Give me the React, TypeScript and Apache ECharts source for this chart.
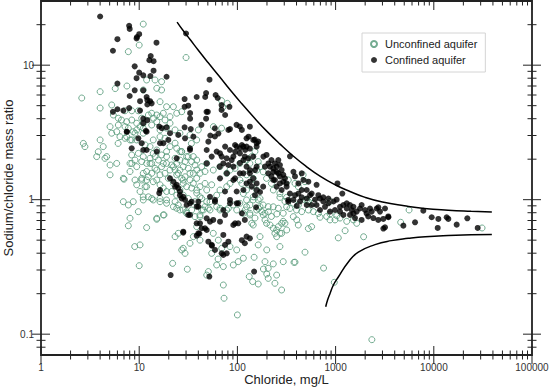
import React, { useEffect, useRef } from 'react';
import * as echarts from 'echarts';

// [chloride mg/L, sodium/chloride mass ratio]
const UNCONFINED: [number, number][] = [
  [11,20.2],[7.75,12.6],[30,11.4],[10,14.1],
  [4.0,6.35],[4.0,4.8],[2.6,5.7],[5.7,6.7],[7.5,7.0],
  [5.25,5.06],[5.45,4.26],[6.13,4.03],[5.05,3.49],[5.9,3.2],[5.25,3.12],[6.37,2.94],[7.75,3.4],[8.7,3.2],[7.46,2.94],[8.4,2.78],[9.4,2.78],[11,3.12],[10.2,3.49],
  [2.7,2.62],[2.8,2.48],[3.83,2.27],[4.67,2.09],[3.69,2.09],[5.05,1.81],[5.9,1.86],[6.89,1.44],[8.06,1.62],[8.4,1.86],[4.0,2.78],[4.3,2.48],[4.48,2.03],[5.05,1.53],[6.1,2.62],
  [11.9,7.76],[14.5,7.76],[16.9,7.54],[16.9,6.54],[15.1,6.73],[11,6.54],[16.3,5.35],[19,4.91],[22.3,4.91],[24.1,4.39],[27.1,4.51],[20.6,4.14],[17.6,4.39],[15.1,4.26],[13.4,4.39],
  [69,5.45],[79,5.2],[71,4.86],[57,3.49],[69,3.4],[34,2.62],[27,2.27],[31.6,2.09],
  [7.17,4.58],[8.4,4.58],[9.8,4.58],[6.6,3.91],[7.46,3.8],[8.4,3.91],[9.43,3.7],[10.6,4.03],[12.4,4.26],[14,4.03],[16.3,4.14],[18.3,3.91],[20.6,3.7],[6.13,3.59],[7.17,3.49],[9.43,3.3],[11,3.4],
  [6.89,0.966],[7.75,0.913],[8.7,0.966],[9.8,0.814],[8.06,0.727],[11,0.995],[12.4,1.05],[13.4,1.02],[15.1,0.727],[17.6,0.77],[19,0.995],[16.3,1.02],[9,0.448],[10.2,0.461],
  [7.0,1.42],[9.06,1.4],[9.43,1.29],[10.6,1.4],[10.2,1.15],[11.5,1.25],[11,1.57],[11.9,1.62],[12.4,1.48],[13.4,1.57],[14.5,1.71],[13.9,1.36],[15.1,1.4],[16.3,1.29],[17.6,1.22],[19,1.15],[21.4,1.15],[24.1,1.08],[23.2,0.966],[25,0.913],[24.1,0.863],[28.1,0.838],[30.4,0.814],[34.2,0.838],[37,0.748],[41.6,0.77],[45,0.838],[48.7,0.966],[48.7,1.18],[41.6,1.25],[46.8,1.32],[38.5,1.44],[41.6,1.57],[46.8,1.62],[43.3,1.76],[37,1.81],[34.2,1.92],[30.4,2.09],[27.1,2.28],[24.1,2.41],[23.2,2.63],[20.6,2.48],[19,2.28],[16.9,2.15],[15.7,1.97],[16.9,1.76],[19,1.86],[21.4,1.81],[23.2,1.66],[25,1.57],[27.1,1.44],[28.1,1.32],[30.4,1.25],[32.9,1.4],[35.6,1.57],[38.5,1.66],[31.6,1.71],[28.1,1.76],[24.1,1.86],[7.17,2.86],[8.06,2.78],[9.06,3.12],[9.8,2.21],[11,2.09],[12.9,2.03],[10.6,1.92],[9.06,1.97],[9.43,1.76],[8.06,1.86],
  [8.38,2.15],[11.9,1.86],[13.4,1.86],[14.5,2.09],[15.1,2.34],[12.9,2.48],[11.5,2.55],[13.9,2.78],[16.3,2.94],[18.3,2.86],[23.2,2.03],[26,1.97],[29.3,1.92],[26,1.66],[32.9,1.57],[29.3,1.48],[34.2,1.22],[38.5,1.12],[43.3,1.02],[37,0.966],[31.6,1.02],[28.1,1.08],[26,1.18],[22.3,1.32],[19.8,1.44],[18.3,1.57],[16.3,1.53],[11.9,1.4],
  [11,3.7],[13.4,3.59],[15.1,3.8],[16.3,3.3],[19,3.4],[23.2,3.3],[26,3.12],[32.9,3.03],[38.5,2.78],[40,3.3],[26,2.28],[35.6,2.09],[38.5,1.97],[48.7,1.86],[56.8,1.66],[66.5,1.76],[77.8,1.57],[84.1,1.66],[94.6,1.71],[106,1.86],[124,1.97],[140,2.09],[151,2.28],[163,1.92],[157,1.66],[145,1.44],[124,1.53],[106,1.4],[84.1,1.32],[77.8,1.25],[66.5,1.18],[61.5,1.08],[52.6,0.966],[46.8,0.887],[43.3,0.838],[52.6,0.838],[66.5,0.863],[80.9,0.863],[90.8,0.913],[106,0.94],[124,0.995],[145,1.05],[163,0.995],[157,0.838],[134,0.792],[115,0.792],[124,0.887],[13.9,2.21],[12.9,1.86],[15.1,1.66],[17.6,1.86],[19,2.09],[20.6,1.66],[22.3,1.76],[24.1,1.53],[28.1,1.4],[35.6,1.32],[38.5,1.18],[41.6,1.05],[54.7,1.29],[10.6,1.44],[11.9,1.25],[11,1.05],[13.9,0.995],[16.3,0.966],[19,0.94],[22.3,0.887],[26,0.838],[30.4,0.792],
  [15.1,0.715],[17.9,0.77],[23.2,0.531],[25,0.562],[28.1,0.435],[29.3,0.399],[27.1,0.423],[21.9,0.336],[30.9,0.304],[38.5,0.63],[41.6,0.748],[50.6,0.863],[61.5,0.887],[66.5,0.838],[77.8,0.838],[98.4,0.838],[134,0.77],[145,0.648],[163,0.461],[170,0.531],[199,0.423],[191,0.346],[206,0.309],[251,0.275],[293,0.346],[377,0.342],[271,0.448],[282,0.562],[251,0.531],[191,0.792],[206,0.887],[261,0.863],[293,0.792],[170,0.887],[56.8,0.562],[63.9,0.5],[69.2,0.435],[84.1,0.448],[98.4,0.423],[102,0.346],[90.8,0.327],[71.9,0.318],[61.5,0.327],[54.7,0.399],[50.6,0.292],[48.7,0.275],[71.9,0.232],[73.1,0.185],[100,0.139],[132,0.268],[143,0.246],[163,0.236],[206,0.26],[241,0.239],[282,0.213],[148,0.373],[115,0.367],[35.6,0.531],[32.9,0.474],[41.6,0.5],
  [305,0.667],[318,0.595],[371,0.748],[402,0.707],[417,0.648],[241,0.562],
  [111,1.32],[115,1.11],[124,1.18],[140,1.29],[157,1.18],[145,0.995],[170,1.02],[183,0.913],[164,0.86],[177,0.815],[183,0.77],[191,0.707],[198,0.667],[215,0.648],[232,0.613],[251,0.595],[261,0.63],[271,0.563],[282,0.667],[293,0.69],[222,0.75],[207,0.815],[232,0.885],[317,0.885],[343,0.86],[400,0.838],[452,0.815],[528,0.838],[594,0.815],[667,0.79],[812,0.75],[877,0.707],[986,0.707],[1520,0.707],[570,0.63],[528,0.61],[418,0.913],[488,0.995],[528,0.97],[372,0.94],[305,0.97],[271,1.04],[134,0.913],[120,0.838],[151,0.73],[140,0.667],
  [134,1.86],[170,1.76],[183,1.61],[198,1.44],[222,1.32],[232,1.18],[271,1.11],[317,1.04],[508,0.995],[594,0.94],[877,0.97],[1109,0.73],[1298,0.69],[1640,0.667],
  [10,0.323],[63.6,0.362],[184,0.305],[199,0.28],[232,0.333],[7.75,0.64],[11.9,0.62],
  [252,0.783],[386,0.343],[488,0.407],[754,0.31],[970,0.243],[1928,0.53],[1065,0.52],[1250,0.588],[1028,0.76],[878,0.783],[695,0.74],[5600,0.838],[4600,0.679],[31000,0.616],[2340,0.091],
  [330,1.4],[386,1.32],[417,1.25],[488,1.36],[467,1.53],
];

const CONFINED: [number, number][] = [
  [4.0,23],[7.9,19.6],[8.0,18.6],[10,17],[9.5,16.2],[9.4,15.8],[6.0,15.6],[15,14.7],[5.4,12.8],[13.1,11.7],[12.7,10.9],[14,10.7],[30,17.2],[9,9.8],[10,8.8],[11,8.4],[13,8.3],[14,9.1],[9.4,8.0],[19,8.2],[6,7.3],[9,6.5],[11,6.5],[11.9,5.8],[12.1,5.5],[12.9,5.4],[13.4,5.2],[12.1,5.1],[10.2,5.4],[8.0,5.9],[7.9,4.8],[10.2,4.6],[11,4.0],[12.1,3.9],[11,3.7],[6,4.7],[5.4,4.5],[6.9,4.6],[29,5.6],[31.6,5.0],[29,4.9],[38.5,5.8],[33,4.4],[33,4.0],[29,3.45],[33.5,3.35],[48,6.2],[48.5,4.5],[48,4.0],[43,3.6],[52,7.8],[19,3.45],[16,3.5],[17,3.4],[7.5,3.2],[11.7,3.25],
  [47,5.8],[60,6.0],[63,5.7],[50,4.5],[69,4.65],[83,4.9],[98,3.6],[106,3.5],[84,3.35],[53,3.0],[59,2.95],[64,3.1],[130,2.94],[150,2.8],[163,2.7],[157,2.48],[134,2.4],[124,2.48],
  [75,2.48],[84,2.34],[95,2.27],[119,2.09],[91,2.09],[106,1.87],[145,2.09],[184,2.09],[191,1.76],[157,1.76],[134,1.66],[91,1.76],[206,1.57],[232,1.4],[91,1.4],[78,1.57],[66,1.76],
  [59,3.39],[75,4.26],[69,5.05],[111,3.3],[81,3.3],[111,2.55],
  [120,2.34],[129,2.03],[115,1.57],[145,1.44],[134,1.36],[157,1.32],[183,1.25],[170,1.14],[151,1.08],[198,2.15],[222,1.97],[241,1.86],[251,1.76],[271,1.81],[282,1.66],[261,1.57],[232,1.61],[215,1.76],[207,1.86],[293,1.53],[305,1.44],[271,1.32],[251,1.25],[282,1.18],[317,1.25],[343,2.1],[372,1.61],[386,1.49],[418,1.32],[452,1.57],[470,1.4],[528,1.36],[640,1.29],[343,1.11],[386,1.08],[418,1.11],[452,1.04],[508,1.02],[549,1.08],[617,1.0],[694,1.02],[750,0.97],[844,0.94],[950,0.97],[1025,1.0],[1109,0.885],[1200,0.913],[1298,0.86],[1460,0.838],[1640,0.815],[1772,0.86],[1993,0.838],[2070,0.79],[2330,0.815],[2620,0.86],[2832,0.815],[3184,0.86],[3440,0.75],[3065,0.61],[2720,0.707],[2420,0.73],[2150,0.75],[1840,0.707],[1577,0.73],[1402,0.77],[1200,0.77],[1109,0.815],[986,0.838],[877,0.815],[780,0.885],[694,0.838],[640,0.913],[570,0.913],[508,0.913],[434,0.97],[372,0.995],[330,0.995],[1170,1.11],[1045,1.32],
  [232,1.71],[251,1.61],[271,1.49],[241,1.4],[222,1.49],[293,1.36],[317,1.32],[508,1.18],[570,1.11],[750,1.04],[844,1.02],[452,1.18],[667,1.08],[1298,0.94],[1520,0.885],[1840,0.913],[2240,0.86],[1520,0.79],[1402,0.913],
  [2723,0.878],[3061,0.719],[3443,0.74],[3184,0.623],[4897,0.641],[6440,0.679],[7820,0.828],[9520,0.74],[11130,0.719],[10960,0.616],[13520,0.74],[14060,0.719],[17100,0.652],[21950,0.727],[27990,0.616],
  [261,1.97],
  [20.6,3.12],[134,3.49],[32.9,2.41],[50.6,2.7],[48.7,2.34],[54.7,2.09],[61.5,2.28],[66.5,2.21],[69.2,2.09],[77.8,2.03],[71.9,1.86],[80.9,1.81],[87.4,1.97],[94.6,2.55],[98.4,2.48],[106,2.41],[115,2.48],[124,2.86],[145,2.78],[157,2.63],[106,2.21],[115,1.97],[124,1.76],[134,1.57],[151,1.66],[106,1.57],[94.6,1.44],[124,1.32],[140,1.25],[157,1.18],[115,1.18],[98.4,1.15],[66.5,1.44],[74.8,1.15],[84.1,0.995],[98.4,0.94],[71.9,0.838],[59.1,0.995],[52.6,1.05],[40,0.966],[32.9,0.94],[28.1,1.05],[26,1.15],[24.1,1.29],[22.3,1.36],
  [30.4,0.913],[32.9,0.77],[40,0.887],[41.6,0.667],[46.8,0.613],[52.6,0.686],[59.1,0.967],[56.8,0.707],[66.5,0.686],[74.8,0.77],[84.1,0.94],[94.6,0.667],[102,0.667],[90.8,0.648],[111,0.792],[119,0.707],[124,0.531],[134,0.516],[119,0.474],[111,0.5],[71.9,0.547],[80.9,0.487],[74.8,0.461],[69.2,0.399],[71.9,0.388],[77.8,0.399],[54.7,0.461],[59.1,0.423],[28.1,0.569],[40,0.562],[20.9,0.275],[51.8,0.268],[148,0.292],[155,0.878],[102,0.94],[402,0.898],[330,0.967],
  [7.46,3.2],[9.8,2.86],[10.6,2.63],[11.9,3.2],[8.38,2.41],[11,2.34],[11.9,2.34],[15.1,2.28],[16.3,2.63],[17.6,2.63],[19.8,2.78],[25,3.03],[29.3,2.86],[32.9,2.34],[24.1,2.03],[20.6,1.44],[23.2,1.25],[25,1.22],[26,1.08],[27.1,1.02],[29.3,0.995],[34.2,0.966],[38.5,0.887],[31.6,0.77],[38.5,0.667],[28.1,0.578],[43.3,0.613],[48.7,0.727],[48.7,0.595],[50.6,0.487],[16.3,1.18],[16,1.12],[48.7,1.86],[35.6,2.94],
  [38.5,0.54],[41,0.56],[55,0.455],
];

// Upper and lower mixing curves
const UPPER_CURVE: [number, number][] = [
  [24.3,20.9],[28,18.1],[33,15.5],[40,12.9],[50,10.5],[65,8.3],[85,6.5],[110,5.2],[150,4.03],[200,3.22],[270,2.6],[370,2.11],[500,1.77],[700,1.49],[1000,1.285],[1400,1.15],[2000,1.04],[3000,0.96],[5000,0.9],[8000,0.86],[14000,0.835],[24000,0.82],[39000,0.81],
];
const LOWER_CURVE: [number, number][] = [
  [793,0.16],[830,0.18],[876,0.2],[950,0.232],[1062,0.265],[1343,0.343],[1703,0.407],[2520,0.463],[3700,0.496],[5500,0.516],[8200,0.531],[14000,0.542],[24000,0.548],[39000,0.552],
];

const X_MIN = 1;
const X_MAX = 100000;
const Y_MIN = 0.07;
const Y_MAX = 30;
const X_MAJOR = [1, 10, 100, 1000, 10000, 100000];
const X_MINOR = [2,3,4,5,6,7,8,9,20,30,40,50,60,70,80,90,200,300,400,500,600,700,800,900,2000,3000,4000,5000,6000,7000,8000,9000,20000,30000,40000,50000,60000,70000,80000,90000];
const Y_MAJOR = [0.1, 1, 10];
const Y_MINOR = [0.08,0.09,0.2,0.3,0.4,0.5,0.6,0.7,0.8,0.9,2,3,4,5,6,7,8,9,20];

const FONT = '"Liberation Sans", Arial, Helvetica, sans-serif';
const MAJOR_LEN = 9;
const MINOR_LEN = 4.5;

function tickScatter(data: number[][], size: number[]) {
  return {
    type: 'scatter',
    data,
    symbol: 'rect',
    symbolSize: size,
    silent: true,
    clip: false,
    z: 10,
    itemStyle: { color: '#222', opacity: 1 },
  };
}

export default function App() {
  const ref = useRef<HTMLDivElement>(null);
  useEffect(() => {
    const chart = echarts.init(ref.current!, null, { renderer: 'svg' });
    const fmt = (v: number) => {
      const l = Math.log10(v);
      if (Math.abs(l - Math.round(l)) > 1e-6) return '';
      return String(Number(v.toPrecision(6)));
    };
    const xBottom = (vals: number[]) => vals.map((v) => [v, Y_MIN]);
    const xTop = (vals: number[]) => vals.map((v) => [v, Y_MAX]);
    const yLeft = (vals: number[]) => vals.map((v) => [X_MIN, v]);
    const yRight = (vals: number[]) => vals.map((v) => [X_MAX, v]);
    chart.setOption({
      animation: false,
      textStyle: { fontFamily: FONT },
      grid: {
        left: 41, right: 18, top: 1, bottom: 33,
        containLabel: false,
        outerBoundsMode: 'none',
        show: true, borderColor: '#222', borderWidth: 1.8, backgroundColor: 'transparent',
      },
      legend: {
        orient: 'vertical',
        left: 362,
        top: 33,
        padding: [4, 8, 5, 8],
        itemGap: 2,
        itemWidth: 12,
        itemHeight: 6,
        icon: 'circle',
        backgroundColor: '#fff',
        borderColor: '#d4d4d4',
        borderWidth: 1,
        textStyle: { fontSize: 11, color: '#222', fontFamily: FONT, lineHeight: 14 },
        data: ['Unconfined aquifer', 'Confined aquifer'],
      },
      xAxis: {
        type: 'log',
        logBase: 10,
        min: X_MIN,
        max: X_MAX,
        name: 'Chloride, mg/L',
        nameLocation: 'middle',
        nameGap: 18,
        nameMoveOverlap: false,
        nameTextStyle: { fontSize: 13, color: '#222', fontFamily: FONT, lineHeight: 13 },
        axisLine: { show: false },
        axisTick: { show: false },
        minorTick: { show: false },
        splitLine: { show: false },
        axisLabel: { fontSize: 10, color: '#333', margin: 7, fontFamily: FONT, formatter: fmt },
      },
      yAxis: {
        type: 'log',
        logBase: 10,
        min: Y_MIN,
        max: Y_MAX,
        name: 'Sodium/chloride mass ratio',
        nameLocation: 'middle',
        nameGap: 26,
        nameMoveOverlap: false,
        nameTextStyle: { fontSize: 13, color: '#222', fontFamily: FONT, lineHeight: 13 },
        axisLine: { show: false },
        axisTick: { show: false },
        minorTick: { show: false },
        splitLine: { show: false },
        axisLabel: { fontSize: 10, color: '#333', margin: 7, fontFamily: FONT, formatter: fmt },
      },
      series: [
        {
          name: 'Unconfined aquifer',
          type: 'scatter',
          data: UNCONFINED,
          symbol: 'circle',
          symbolSize: 6,
          itemStyle: { color: 'rgba(255,255,255,0)', borderColor: '#5a9c7c', borderWidth: 1, opacity: 0.85 },
          z: 2,
        },
        {
          name: 'Confined aquifer',
          type: 'scatter',
          data: CONFINED,
          symbol: 'circle',
          symbolSize: 6,
          itemStyle: { color: '#000' },
          z: 3,
        },
        { type: 'line', data: UPPER_CURVE, smooth: true, showSymbol: false, silent: true, lineStyle: { color: '#000', width: 1.5 }, z: 4 },
        { type: 'line', data: LOWER_CURVE, smooth: true, showSymbol: false, silent: true, lineStyle: { color: '#000', width: 1.5 }, z: 4 },
        tickScatter(xBottom(X_MAJOR), [1, MAJOR_LEN * 2]),
        tickScatter(xBottom(X_MINOR), [1, MINOR_LEN * 2]),
        tickScatter(xTop(X_MAJOR), [1, MAJOR_LEN * 2]),
        tickScatter(xTop(X_MINOR), [1, MINOR_LEN * 2]),
        tickScatter(yLeft(Y_MAJOR), [MAJOR_LEN * 2, 1]),
        tickScatter(yLeft(Y_MINOR), [MINOR_LEN * 2, 1]),
        tickScatter(yRight(Y_MAJOR), [MAJOR_LEN * 2, 1]),
        tickScatter(yRight(Y_MINOR), [MINOR_LEN * 2, 1]),
      ],
    });
    return () => chart.dispose();
  }, []);
  return (
    <div style={{ position: 'fixed', left: 0, top: 0, width: 550, height: 388, background: '#fff', overflow: 'hidden' }}>
      <div ref={ref} style={{ width: 550, height: 388 }} />
    </div>
  );
}
